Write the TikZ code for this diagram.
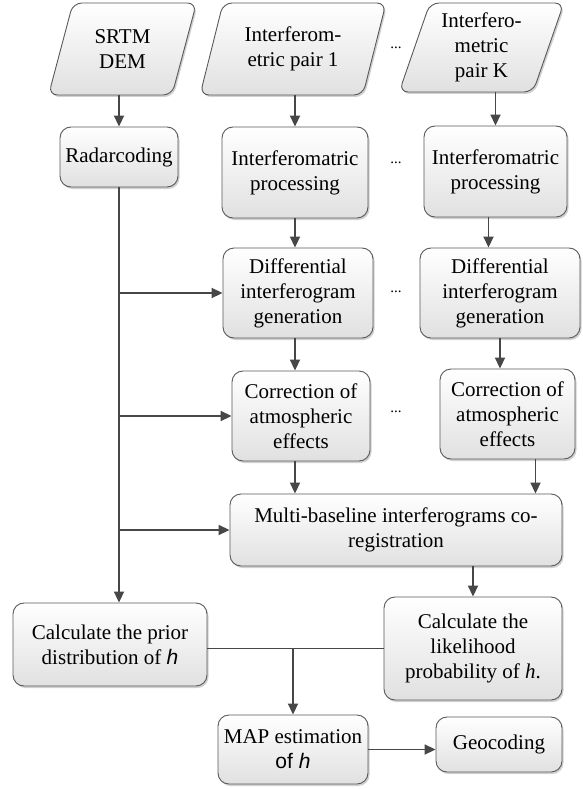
\documentclass[tikz,border=0pt]{standalone}
\usepackage{fontspec}
\setmainfont{Liberation Serif}
\newfontfamily\arialfont{Liberation Sans}
\usepackage{tikz}
\usetikzlibrary{arrows.meta, shapes.geometric, shadows}
\tikzset{every node/.style={font=\fontsize{21}{25}\selectfont}}
\colorlet{linecol}{black!72}
\colorlet{boxcol}{black!65}
\colorlet{shadecol}{black!12}
\tikzset{
  procbox/.style={draw=boxcol, line width=0.9pt, rounded corners=11pt,
    top color=white, bottom color=shadecol, align=center, inner sep=2pt,
    drop shadow={shadow xshift=1.5pt, shadow yshift=-2pt, fill=black!30, opacity=0.6}},
  databox/.style={procbox, trapezium, trapezium left angle=71,
    trapezium right angle=109, trapezium stretches=true, rounded corners=9pt},
  flow/.style={->, line width=1.8pt, draw=linecol},
  link/.style={line width=1.8pt, draw=linecol},
  gap/.style={font=\fontsize{15}{15}\selectfont}
}

\begin{document}
\begin{tikzpicture}[x=1pt, y=-1pt, >={Triangle[length=11pt, width=10pt]}]

  \useasboundingbox (0,0) rectangle (583,789);

  % Input data.
  \node[databox, minimum width=149pt, minimum height=92pt] (srtm) at (122.5,49) {SRTM\\DEM};
  \node[databox, minimum width=186pt, minimum height=92pt] (pair1) at (293,49) {Interferom-\\etric pair 1};
  \node[databox, minimum width=165pt, minimum height=89pt] (pairK) at (481.5,47.5) {Interfero-\\metric\\pair K};

  % Processing chain, pair 1 and pair K.
  \node[procbox, minimum width=118pt, minimum height=60pt] (rad) at (119,157) {Radarcoding};
  \node[procbox, minimum width=146pt, minimum height=91pt] (proc1) at (295,172.5) {Interferomatric\\processing};
  \node[procbox, minimum width=143pt, minimum height=91pt] (procK) at (495.5,171.5) {Interferomatric\\processing};
  \node[procbox, minimum width=150pt, minimum height=90pt] (diff1) at (298,293) {Differential\\interferogram\\generation};
  \node[procbox, minimum width=160pt, minimum height=90pt] (diffK) at (500,293) {Differential\\interferogram\\generation};
  \node[procbox, minimum width=138pt, minimum height=90pt] (corr1) at (301,416) {Correction of\\atmospheric\\effects};
  \node[procbox, minimum width=135pt, minimum height=90pt] (corrK) at (507.5,414) {Correction of\\atmospheric\\effects};

  % Ellipses between the columns.
  \foreach \y [count=\i] in {48,163,292,412} {
    \node[gap] (dots\i) at (396,\y) {...};
  }

  % Estimation.
  \node[procbox, minimum width=332pt, minimum height=72pt] (multi) at (396,530) {Multi-baseline interferograms co-\\registration};
  \node[procbox, minimum width=194pt, minimum height=83pt] (prior) at (110,644.5) {Calculate the prior\\distribution of {\arialfont\itshape h}};
  \node[procbox, minimum width=178pt, minimum height=103pt] (like) at (473,648.5) {Calculate the\\likelihood\\probability of \textit{h}.};
  \node[procbox, minimum width=150pt, minimum height=69pt] (map) at (293,749.5) {MAP estimation\\{\arialfont of \itshape h}};
  \node[procbox, minimum width=126pt, minimum height=55pt] (geo) at (499,744.5) {Geocoding};

  % Arrows down the columns.
  \draw[flow] (srtm.south -| rad.north) -- (rad.north);
  \draw[flow] (pair1.south -| proc1.north) -- (proc1.north);
  \draw[flow] (pairK.south -| procK.north) -- (procK.north);
  \draw[flow] (proc1.south) -- (proc1.south |- diff1.north);
  \draw[flow] ([xshift=-7pt]procK.south) -- ([xshift=-7pt]procK.south |- diffK.north);
  \draw[flow] (diff1.south -| proc1.south) -- (proc1.south |- corr1.north);
  \draw[flow] (diffK.south) -- (diffK.south |- corrK.north);
  \draw[flow] (corr1.south -| proc1.south) -- (proc1.south |- multi.north);
  \draw[flow] ([xshift=28pt]corrK.south) -- ([xshift=28pt]corrK.south |- multi.north);

  % Radarcoded DEM feeds every step.
  \draw[flow] (rad.south) -- (rad.south |- prior.north);
  \foreach \n in {diff1, corr1, multi} {
    \draw[flow] (rad.south |- \n.west) -- (\n.west);
  }

  % Prior and likelihood into MAP.
  \draw[flow] (multi.south -| like.north) -- (like.north);
  \coordinate (meet) at (map.north |- like.west);
  \draw[link] (prior.east |- meet) -- (like.west);
  \draw[flow] (meet) -- (map.north);
  \draw[flow] (map.east) -- (map.east -| geo.west);

\end{tikzpicture}
\end{document}
